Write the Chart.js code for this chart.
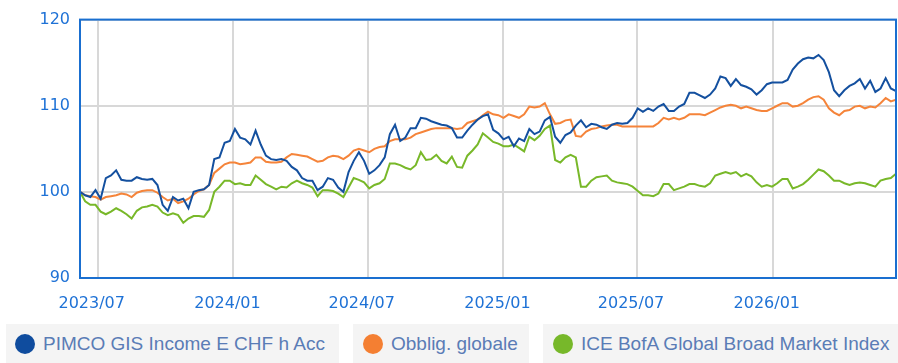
<!DOCTYPE html>
<html lang="it">
<head>
<meta charset="UTF-8">
<title>PIMCO GIS Income E CHF h Acc</title>
<script src="https://cdn.jsdelivr.net/npm/chart.js"></script>
<style>
    * { margin: 0; padding: 0; box-sizing: border-box; }
    body {
        width: 898px;
        height: 363px;
        background: #fff;
        overflow: hidden;
        font-family: 'Liberation Sans', Arial, sans-serif;
    }
    .chart-box {
        position: relative;
        width: 898px;
        height: 318px;
    }
    .legend {
        position: absolute;
        top: 324px;
        left: 0;
        width: 898px;
        height: 39px;
    }
    .legend .item {
        position: absolute;
        top: 0;
        height: 39px;
        background: #f4f4f4;
        display: flex;
        align-items: center;
        padding-left: 10px;
        font-size: 19px;
        color: #5a7cb6;
        white-space: nowrap;
    }
    .legend .dot {
        width: 20px;
        height: 20px;
        border-radius: 50%;
        margin-right: 8px;
        flex: none;
    }
</style>
</head>
<body>
<div class="chart-box">
    <canvas id="perfChart"></canvas>
</div>
<div class="legend">
    <div class="item" style="left:6px;width:333px;padding-left:9px"><span class="dot" style="background:#0f4c9e"></span>PIMCO GIS Income E CHF h Acc</div>
    <div class="item" style="left:353px;width:176px"><span class="dot" style="background:#f47f32"></span>Obblig. globale</div>
    <div class="item" style="left:543px;width:355px"><span class="dot" style="background:#77b82a"></span>ICE BofA Global Broad Market Index</div>
</div>

<script>
// weekly closes, rebased to 100 at the first week
const firstWeek = '2023-06-07';

const pimco = [
    100.0, 99.6, 99.4, 100.2, 99.2, 101.6, 101.9, 102.5, 101.4, 101.3,
    101.3, 101.7, 101.5, 101.4, 101.5, 100.8, 98.5, 97.8, 99.4, 99.0,
    99.2, 98.1, 100.0, 100.2, 100.3, 100.8, 103.8, 104.0, 105.7, 105.9,
    107.3, 106.3, 106.1, 105.5, 107.1, 105.5, 104.2, 103.8, 103.7, 103.8,
    103.6, 102.9, 102.5, 101.6, 101.3, 101.3, 100.2, 100.6, 101.6, 101.4,
    100.5, 100.0, 102.3, 103.6, 104.6, 103.6, 102.1, 102.5, 103.1, 104.0,
    106.7, 107.8, 105.9, 106.3, 107.4, 107.4, 108.6, 108.5, 108.2, 108.0,
    107.8, 107.7, 107.4, 106.3, 106.3, 107.1, 107.8, 108.4, 108.8, 109.0,
    107.2, 106.8, 106.1, 106.4, 105.3, 106.2, 105.9, 107.3, 106.7, 107.0,
    108.3, 108.7, 106.4, 105.7, 106.6, 106.9, 107.7, 108.3, 107.5, 107.9,
    107.8, 107.5, 107.3, 107.8, 108.0, 107.9, 108.0, 108.6, 109.7, 109.3,
    109.7, 109.4, 109.9, 110.2, 109.4, 109.4, 109.9, 110.2, 111.5, 111.5,
    111.2, 110.9, 111.3, 112.0, 113.4, 113.2, 112.3, 113.1, 112.4, 112.2,
    111.9, 111.3, 111.8, 112.5, 112.7, 112.7, 112.7, 113.0, 114.2, 114.9,
    115.4, 115.6, 115.5, 115.9, 115.3, 113.9, 111.8, 111.1, 111.8, 112.3,
    112.6, 113.1, 112.0, 112.9, 111.6, 112.0, 113.2, 112.0, 111.7
];

const obbligGlobale = [
    100.0, 99.6, 99.5, 99.4, 99.1, 99.4, 99.5, 99.6, 99.8, 99.7,
    99.4, 99.9, 100.1, 100.2, 100.2, 99.9, 99.4, 99.0, 99.2, 98.7,
    98.9, 99.2, 99.7, 100.1, 100.3, 100.8, 102.2, 102.7, 103.2, 103.4,
    103.4, 103.2, 103.3, 103.4, 104.0, 104.0, 103.5, 103.4, 103.4, 103.5,
    104.0, 104.4, 104.3, 104.2, 104.1, 103.8, 103.5, 103.6, 104.0, 104.2,
    104.1, 103.8, 104.2, 104.8, 105.0, 104.8, 104.6, 105.0, 105.2, 105.3,
    105.9, 106.1, 106.1, 106.1, 106.3, 106.7, 106.9, 107.1, 107.3, 107.4,
    107.4, 107.4, 107.4, 107.3, 107.4, 108.0, 108.2, 108.4, 108.9, 109.3,
    109.0, 108.9, 108.6, 109.0, 108.8, 108.6, 109.0, 109.9, 109.8, 109.9,
    110.3, 109.0, 107.9, 108.0, 108.3, 108.4, 106.5, 106.4, 107.0, 107.3,
    107.4, 107.6, 107.7, 107.8, 107.8, 107.6, 107.6, 107.6, 107.6, 107.6,
    107.6, 107.6, 108.0, 108.6, 108.4, 108.6, 108.4, 108.6, 109.0, 109.0,
    109.0, 108.9, 109.2, 109.5, 109.8, 110.0, 110.1, 110.0, 109.7, 109.9,
    109.7, 109.5, 109.4, 109.4, 109.7, 110.0, 110.3, 110.3, 109.9, 110.0,
    110.3, 110.7, 111.0, 111.1, 110.7, 109.7, 109.2, 108.9, 109.4, 109.5,
    109.9, 110.0, 109.7, 109.9, 109.8, 110.3, 110.9, 110.5, 110.7
];

const iceBofa = [
    100.0, 98.9, 98.5, 98.5, 97.7, 97.4, 97.7, 98.1, 97.8, 97.4,
    96.9, 97.8, 98.2, 98.3, 98.5, 98.3, 97.6, 97.3, 97.5, 97.3,
    96.4, 96.9, 97.2, 97.2, 97.1, 97.9, 100.0, 100.6, 101.3, 101.3,
    100.9, 101.0, 100.8, 100.8, 101.9, 101.4, 100.9, 100.6, 100.3, 100.6,
    100.5, 101.0, 101.3, 101.0, 100.8, 100.5, 99.5, 100.2, 100.2, 100.1,
    99.8, 99.4, 100.5, 101.6, 101.4, 101.1, 100.4, 100.8, 101.0, 101.5,
    103.3, 103.3, 103.1, 102.8, 102.6, 103.1, 104.6, 103.7, 103.8, 104.3,
    103.6, 103.3, 104.1, 102.9, 102.8, 104.2, 104.8, 105.5, 106.8, 106.3,
    105.8, 105.6, 105.3, 105.3, 105.5, 105.1, 104.7, 106.4, 106.0, 106.5,
    107.3, 107.7, 103.7, 103.4, 104.0, 104.3, 104.0, 100.6, 100.6, 101.3,
    101.7, 101.8, 101.9, 101.3, 101.1, 101.0, 100.9, 100.6, 100.1, 99.6,
    99.6, 99.5, 99.8, 100.9, 100.9, 100.2, 100.4, 100.6, 100.9, 100.9,
    100.7, 100.6, 101.0, 101.9, 102.1, 102.3, 102.1, 102.3, 101.8, 102.1,
    101.8, 101.1, 100.6, 100.8, 100.6, 101.0, 101.5, 101.5, 100.4, 100.6,
    100.9, 101.4, 102.0, 102.6, 102.4, 101.9, 101.3, 101.3, 101.0, 100.8,
    101.0, 101.1, 101.0, 100.8, 100.6, 101.3, 101.5, 101.6, 102.1
];

const xTickLabels = ['2023/07', '2024/01', '2024/07', '2025/01', '2025/07', '2026/01'];
const yTicks = [90, 100, 110, 120];

// the x axis counts days since 1970-01-01
const DAY = 86400000;
const dayOf = (y, m, d) => Date.UTC(y, m - 1, d) / DAY;
const [fy, fm, fd] = firstWeek.split('-').map(Number);
const weekDays = pimco.map((_, i) => dayOf(fy, fm, fd) + 7 * i);
const xTickDays = xTickLabels.map(l => {
    const [y, m] = l.split('/').map(Number);
    return dayOf(y, m, 1);
});

const toPoints = vals => vals.map((v, i) => ({ x: weekDays[i], y: v }));

const labelColor = '#1f72d6';
const frameColor = '#1a6fd0';
const gridColor = '#d8d8d8';

// blue frame around the plot area
const frame = {
    id: 'frame',
    afterDatasetsDraw(chart) {
        const { ctx, chartArea: a } = chart;
        ctx.save();
        ctx.strokeStyle = frameColor;
        ctx.lineWidth = 2;
        ctx.strokeRect(a.left, a.top, a.right - a.left, a.bottom - a.top);
        ctx.restore();
    }
};

const line = (label, vals, color) => ({
    label: label,
    data: toPoints(vals),
    borderColor: color,
    borderWidth: 2,
    pointRadius: 0,
    tension: 0,
    fill: false
});

new Chart(document.getElementById('perfChart'), {
    type: 'line',
    data: {
        datasets: [
            line('PIMCO GIS Income E CHF h Acc', pimco, '#14509f'),
            line('Obblig. globale', obbligGlobale, '#f5843a'),
            line('ICE BofA Global Broad Market Index', iceBofa, '#78b829')
        ]
    },
    options: {
        responsive: true,
        maintainAspectRatio: false,
        animation: false,
        layout: { padding: { top: 16, right: 2, left: 0, bottom: 0 } },
        plugins: {
            legend: { display: false },
            tooltip: { enabled: false }
        },
        scales: {
            x: {
                type: 'linear',
                min: weekDays[0],
                max: weekDays[weekDays.length - 1],
                afterBuildTicks: s => { s.ticks = xTickDays.map(v => ({ value: v })); },
                afterFit: s => { s.height = 40; },
                grid: { color: gridColor, lineWidth: 2, drawTicks: false },
                border: { display: false },
                ticks: {
                    autoSkip: false,
                    maxRotation: 0,
                    padding: 16,
                    labelOffset: -6,
                    color: labelColor,
                    font: { family: 'DejaVu Sans', size: 16 },
                    callback: v => xTickLabels[xTickDays.indexOf(v)]
                }
            },
            y: {
                min: yTicks[0],
                max: yTicks[yTicks.length - 1],
                afterBuildTicks: s => { s.ticks = yTicks.map(v => ({ value: v })); },
                afterFit: s => { s.width = 80; },
                grid: { color: gridColor, lineWidth: 2, drawTicks: false },
                border: { display: false },
                ticks: {
                    padding: 10,
                    color: labelColor,
                    font: { family: 'DejaVu Sans', size: 16 }
                }
            }
        }
    },
    plugins: [frame]
});
</script>
</body>
</html>
